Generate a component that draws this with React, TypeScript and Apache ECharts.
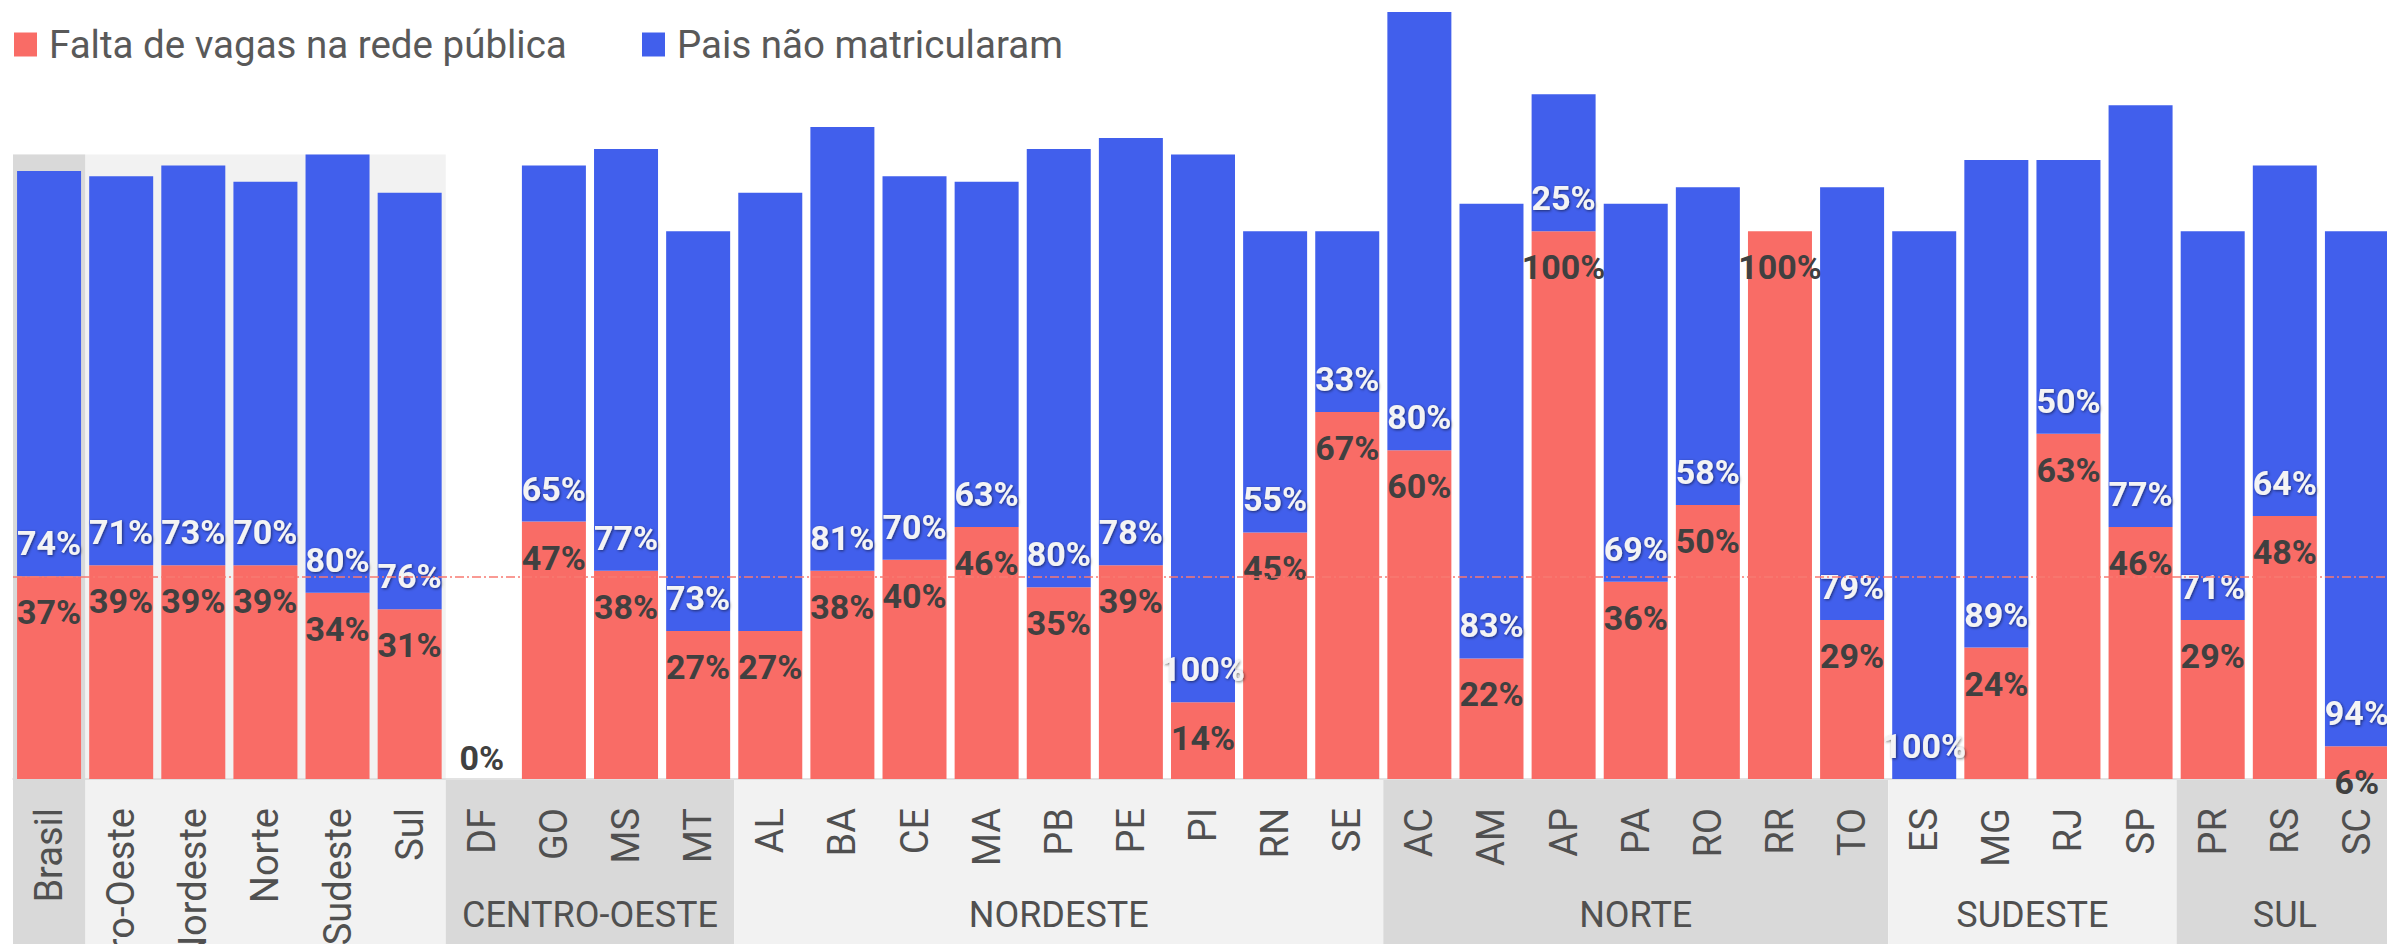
import React, { useEffect, useRef } from 'react';
import * as echarts from 'echarts';

const categories = ['Brasil', 'Centro-Oeste', 'Nordeste', 'Norte', 'Sudeste', 'Sul', 'DF', 'GO', 'MS', 'MT', 'AL', 'BA', 'CE', 'MA', 'PB', 'PE', 'PI', 'RN', 'SE', 'AC', 'AM', 'AP', 'PA', 'RO', 'RR', 'TO', 'ES', 'MG', 'RJ', 'SP', 'PR', 'RS', 'SC'];
const faltaVagas: (number | null)[] = [37, 39, 39, 39, 34, 31, 0, 47, 38, 27, 27, 38, 40, 46, 35, 39, 14, 45, 67, 60, 22, 100, 36, 50, 100, 29, null, 24, 63, 46, 29, 48, 6];
const paisNaoMatricularam: (number | null)[] = [74, 71, 73, 70, 80, 76, null, 65, 77, 73, 80, 81, 70, 63, 80, 78, 100, 55, 33, 80, 83, 25, 69, 58, null, 79, 100, 89, 50, 77, 71, 64, 94];
const hiddenBlueLabels = ['AL'];
const zeroLabelAbove = ['DF'];

const groupNames = ['', 'CENTRO-OESTE', 'NORDESTE', 'NORTE', 'SUDESTE', 'SUL'];
const groupFirst = ['Brasil', 'DF', 'AL', 'AC', 'ES', 'PR'];
const groupLast = ['Sul', 'MT', 'SE', 'TO', 'SP', 'SC'];
const groupColors = ['#f2f2f2', '#d9d9d9', '#f2f2f2', '#d9d9d9', '#f2f2f2', '#d9d9d9'];
const highlightCategory = 'Brasil';

const SERIES_RED = 'Falta de vagas na rede pública';
const SERIES_BLUE = 'Pais não matricularam';
const RED = '#f96c66';
const BLUE = '#415fec';
const FONT = 'Roboto';

export default function App() {
  const ref = useRef<HTMLDivElement>(null);
  useEffect(() => {
    document.body.style.margin = '0';
    const chart = echarts.init(ref.current!, null, { renderer: 'svg' });
    const redData = faltaVagas.map((v, i) => {
      if (v === null) return null;
      if (zeroLabelAbove.includes(categories[i])) {
        return { value: v, label: { position: 'top', distance: 4 } };
      }
      return v;
    });
    const blueData = paisNaoMatricularam.map((v, i) => {
      if (v === null) return null;
      if (hiddenBlueLabels.includes(categories[i])) return { value: v, label: { show: false } };
      return v;
    });
    const legendText = { fontSize: 38.5, color: '#595959', fontFamily: FONT, padding: [0, 0, 0, 7] };
    chart.setOption({
      animation: false,
      legend: [
        { data: [SERIES_RED], left: 14, top: 25, padding: 0, itemWidth: 23, itemHeight: 24, icon: 'rect', textStyle: legendText, selectedMode: false },
        { data: [SERIES_BLUE], left: 642, top: 25, padding: 0, itemWidth: 23, itemHeight: 24, icon: 'rect', textStyle: legendText, selectedMode: false },
      ],
      grid: { left: 13, width: 2380, top: 12, height: 767, containLabel: false, outerBoundsMode: 'none' },
      xAxis: {
        type: 'category',
        data: categories,
        axisTick: { show: false },
        axisLine: { lineStyle: { color: '#d9d9d9', width: 1.5 } },
        axisLabel: { rotate: 90, margin: 29, interval: 0, fontSize: 38, color: '#505050', fontFamily: FONT },
      },
      yAxis: { type: 'value', min: 0, max: 140, show: false, splitLine: { show: false } },
      series: [
        {
          name: SERIES_RED,
          type: 'bar',
          stack: 'total',
          barWidth: 64,
          itemStyle: { color: RED },
          data: redData,
          label: {
            show: true, position: 'insideTop', distance: 19, formatter: '{c}%',
            fontSize: 34, fontWeight: 'bold', fontFamily: FONT, color: '#404040',
          },
        },
        {
          name: SERIES_BLUE,
          type: 'bar',
          stack: 'total',
          barWidth: 64,
          itemStyle: { color: BLUE },
          data: blueData,
          label: {
            show: true, position: 'insideBottom', distance: 16, formatter: '{c}%',
            fontSize: 34, fontWeight: 'bold', fontFamily: FONT, color: '#f4f4f4',
            textShadowColor: 'rgba(0,0,0,0.55)', textShadowBlur: 3, textShadowOffsetX: 1, textShadowOffsetY: 1,
          },
          markLine: {
            silent: true,
            symbol: 'none',
            label: { show: false },
            lineStyle: { color: '#f87a72', type: [9, 3, 2, 3], width: 1.5 },
            data: [{ yAxis: faltaVagas[0] }],
          },
        },
      ],
    });

    const xPix = (i: number) => chart.convertToPixel({ xAxisIndex: 0 }, i) as number;
    const yPix = (v: number) => chart.convertToPixel({ yAxisIndex: 0 }, v) as number;
    const pitch = xPix(1) - xPix(0);
    const axisY = yPix(0);
    const H = 944;
    const graphics: any[] = [];
    groupNames.forEach((name, g) => {
      const a = categories.indexOf(groupFirst[g]);
      const b = categories.indexOf(groupLast[g]);
      const left = xPix(a) - pitch / 2;
      const right = xPix(b) + pitch / 2;
      let top = axisY + 1;
      if (g === 0) {
        let mx = 0;
        for (let i = a; i <= b; i++) mx = Math.max(mx, (faltaVagas[i] || 0) + (paisNaoMatricularam[i] || 0));
        top = yPix(mx);
      }
      graphics.push({ type: 'rect', silent: true, z: -10, shape: { x: left, y: top, width: right - left, height: H - top }, style: { fill: groupColors[g] } });
      if (g === 0) {
        const h = categories.indexOf(highlightCategory);
        graphics.push({ type: 'rect', silent: true, z: -9, shape: { x: xPix(h) - pitch / 2, y: top, width: pitch, height: H - top }, style: { fill: '#d9d9d9' } });
      }
      if (name) {
        graphics.push({
          type: 'text', silent: true, z: 5, x: (left + right) / 2, y: 915,
          style: { text: name, fontSize: 36, fontFamily: FONT, fill: '#505050', align: 'center', verticalAlign: 'middle' },
        });
      }
    });
    chart.setOption({ graphic: graphics });
    return () => chart.dispose();
  }, []);
  return <div ref={ref} style={{ position: 'absolute', left: 0, top: 0, width: 2387, height: 944 }} />;
}
